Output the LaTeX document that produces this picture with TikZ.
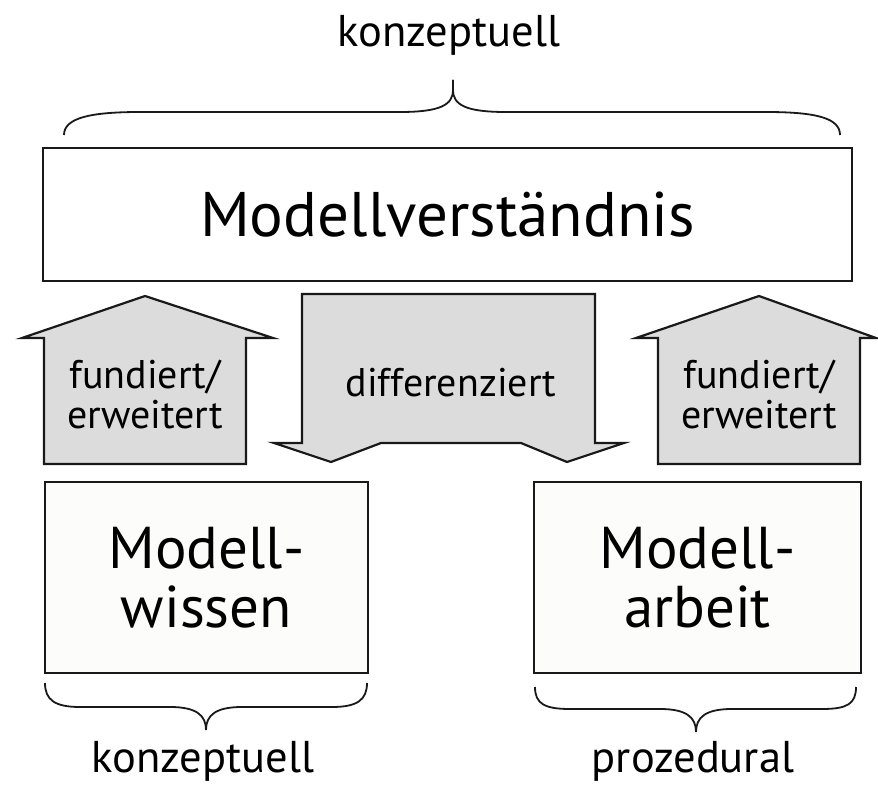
\documentclass[tikz,border=0pt]{standalone}
\usepackage{fontspec}
\setmainfont{PT Sans}
\definecolor{arrowgray}{RGB}{220,220,220}
\definecolor{linecol}{RGB}{25,25,25}
\definecolor{boxfill}{RGB}{252,252,250}
\begin{document}
\begin{tikzpicture}[x=1pt,y=-1pt,line width=2.2pt,line join=miter]
\tikzset{
  bigbox/.style={draw=linecol,fill=white,minimum width=809pt,minimum height=133pt,inner sep=0pt,font=\fontsize{63}{66}\selectfont},
  smallbox/.style={draw=linecol,fill=boxfill,minimum height=191pt,inner sep=0pt,align=center,font=\fontsize{59}{59}\selectfont},
  arrowshape/.style={draw=linecol,fill=arrowgray},
  lbl/.style={font=\fontsize{40}{40}\selectfont,inner sep=0pt,align=center},
  sublbl/.style={font=\fontsize{44.5}{44.5}\selectfont,inner sep=0pt,align=center},
  brace/.style={draw=linecol,line width=1.8pt}
}
\useasboundingbox (0,0) rectangle (878,794);
% top box
\node[bigbox] (mv) at (447.5,214.5) {Modellverständnis};
% bottom boxes
\node[smallbox,minimum width=323pt] (mw) at (206.5,577.5) {Modell-\\wissen};
\node[smallbox,minimum width=327pt] (ma) at (697.5,577.5) {Modell-\\arbeit};
% arrows
\draw[arrowshape] (44,464) -- (44,338) -- (22,338) -- (145,296) -- (273,338) -- (246,338) -- (246,464) -- cycle;
\draw[arrowshape] (658,464) -- (658,338) -- (636,338) -- (759,296) -- (876,338) -- (860,338) -- (860,464) -- cycle;
\draw[arrowshape] (302,294) -- (595,294) -- (595,443) -- (624,443) -- (567,462) -- (521,443) -- (381,443) -- (331,462) -- (274,443) -- (302,443) -- cycle;
\node[lbl] (f1) at (145,394) {fundiert/\\erweitert};
\node[lbl] (f2) at (759,394) {fundiert/\\erweitert};
\node[lbl] (d) at (451,383) {differenziert};
% braces
\draw[brace] (64,135) .. controls (64,118) and (90,112) .. (140,112) -- (400,112) .. controls (440,112) and (453,105) .. (453,90) -- (453,80);
\draw[brace] (453,80) -- (453,90) .. controls (453,105) and (466,112) .. (506,112) -- (766,112) .. controls (816,112) and (840,118) .. (840,135);
\draw[brace] (45,683) .. controls (45,700) and (55,707) .. (80,707) -- (170,707) .. controls (196,707) and (206,715) .. (206,730);
\draw[brace] (206,730) .. controls (206,715) and (216,707) .. (242,707) -- (332,707) .. controls (357,707) and (367,700) .. (367,683);
\draw[brace] (535,687) .. controls (535,704) and (545,709) .. (570,709) -- (660,709) .. controls (686,709) and (696,717) .. (696,732);
\draw[brace] (696,732) .. controls (696,717) and (706,709) .. (732,709) -- (822,709) .. controls (847,709) and (856,704) .. (856,687);
% labels
\node[sublbl,anchor=base] (k1) at (449,47) {konzeptuell};
\node[sublbl,anchor=base] (k2) at (203,772) {konzeptuell};
\node[sublbl,anchor=base] (p) at (693,772) {prozedural};
\end{tikzpicture}
\end{document}
